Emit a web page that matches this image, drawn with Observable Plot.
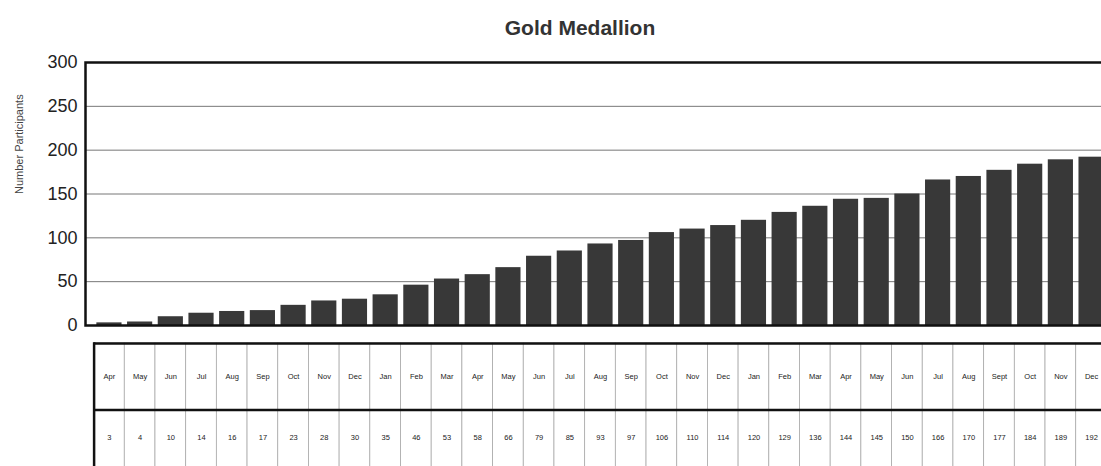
<!DOCTYPE html>
<html>
<head>
<meta charset="utf-8">
<script src="https://cdn.jsdelivr.net/npm/d3@7"></script>
<script src="https://cdn.jsdelivr.net/npm/@observablehq/plot@0.6"></script>
<style>
  html, body { margin: 0; padding: 0; background: #fff; overflow: hidden; width: 1101px; height: 466px; }
  #title { width: 1160px; height: 50px; text-align: center; font-family: "Liberation Sans", Arial, sans-serif;
           font-weight: bold; font-size: 21px; line-height: 56px; color: #333; }
  svg { display: block; max-width: none !important; }
</style>
</head>
<body>
<div id="title">Gold Medallion</div>
<div id="chart"></div>
<div id="table"></div>
<script>
const months = ["Apr","May","Jun","Jul","Aug","Sep","Oct","Nov","Dec","Jan","Feb","Mar",
                "Apr","May","Jun","Jul","Aug","Sep","Oct","Nov","Dec","Jan","Feb","Mar",
                "Apr","May","Jun","Jul","Aug","Sept","Oct","Nov","Dec"];
const participants = [3,4,10,14,16,17,23,28,30,35,46,53,
                      58,66,79,85,93,97,106,110,114,120,129,136,
                      144,145,150,166,170,177,184,189,192];
const yTicks = [0,50,100,150,200,250,300];

const idx = d3.range(months.length);
const data = idx.map(i => ({i, v: participants[i]}));
const font = "Liberation Sans, Arial, sans-serif";

const chart = Plot.plot({
  width: 1120, height: 290,
  marginTop: 12, marginBottom: 15, marginLeft: 85, marginRight: 5,
  style: {fontFamily: font, color: "#222", background: "white", maxWidth: "none"},
  x: {type: "band", domain: idx, paddingInner: 0.18, paddingOuter: 0.37, round: false, axis: null},
  y: {domain: [0, 300]},
  marks: [
    Plot.gridY(yTicks.filter(d => d > 0 && d < 300), {stroke: "#777", strokeOpacity: 1, strokeWidth: 1}),
    Plot.barY(data, {x: "i", y: "v", fill: "#383838"}),
    Plot.axisY(yTicks, {tickSize: 0, tickPadding: 8, fontSize: 18, label: null}),
    Plot.frame({stroke: "#111", strokeWidth: 2.5}),
    Plot.text(["Number Participants"], {frameAnchor: "left", rotate: -90, dx: -66, fontSize: 11, fill: "#444"})
  ]
});
document.getElementById("chart").append(chart);

const rows = [];
idx.forEach(i => {
  rows.push({i, r0: 0, r1: 1, t: months[i], ty: 0.5});
  rows.push({i, r0: 1, r1: 2, t: String(participants[i]), ty: 1.42});
});

const table = Plot.plot({
  width: 1120, height: 136,
  marginTop: 3, marginBottom: 0, marginLeft: 93.6, marginRight: 13.6,
  style: {fontFamily: font, color: "#222", background: "white", maxWidth: "none"},
  x: {type: "band", domain: idx, padding: 0, round: false, axis: null},
  y: {domain: [0, 2], reverse: true, axis: null},
  marks: [
    Plot.barY(rows, {x: "i", y1: "r0", y2: "r1", fill: "white", stroke: "#aaa", strokeWidth: 0.8}),
    Plot.ruleY([0, 1], {stroke: "#111", strokeWidth: 2.5}),
    Plot.frame({anchor: "left", stroke: "#111", strokeWidth: 2.5}),
    Plot.text(rows, {x: "i", y: "ty", text: "t", fontSize: 7.5, fill: "#222"})
  ]
});
document.getElementById("table").append(table);
</script>
</body>
</html>
